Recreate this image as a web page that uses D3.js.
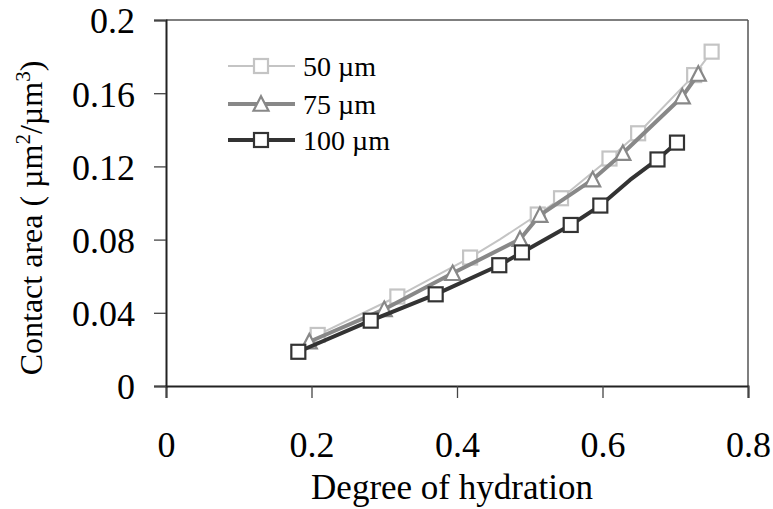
<!DOCTYPE html>
<html><head><meta charset="utf-8">
<script src="https://cdn.jsdelivr.net/npm/d3@7"></script>
<style>body{margin:0;background:#fff}text{font-family:"Liberation Serif","Times New Roman",serif;fill:#000}</style>
</head><body>
<svg id="c" width="773" height="509"></svg>
<script>
const seriesNames = ["50 µm", "75 µm", "100 µm"];
const hyd50  = [0.2085,0.318,0.418,0.459,0.511,0.543,0.6096,0.649,0.726,0.750];
const area50 = [0.0279,0.0489,0.0702,0.0801,0.0937,0.1026,0.1243,0.1381,0.1699,0.1827];
const mark50 = [1,1,1,0,1,1,1,1,1,1];
const hyd75  = [0.197,0.300,0.394,0.4866,0.514,0.5865,0.628,0.7097,0.7317];
const area75 = [0.0242,0.0419,0.0616,0.0802,0.0934,0.1128,0.1272,0.1581,0.1705];
const mark75 = [1,1,1,1,1,1,1,1,1];
const hyd100  = [0.1819,0.2814,0.3707,0.4581,0.4893,0.5563,0.597,0.6378,0.6756,0.7024];
const area100 = [0.0187,0.0357,0.0501,0.0660,0.0730,0.0880,0.0986,0.1126,0.1238,0.1330];
const mark100 = [1,1,1,1,1,1,1,0,1,1];
const xTicks = [0,0.2,0.4,0.6,0.8];
const yTicks = [0,0.04,0.08,0.12,0.16,0.2];

const svg = d3.select("#c");
const L=166,R=748,T=20,B=386;
const x = d3.scaleLinear().domain([0,0.8]).range([L,R]);
const y = d3.scaleLinear().domain([0,0.2]).range([B,T]);

// frame top/right
svg.append("line").attr("x1",L).attr("x2",R).attr("y1",T).attr("y2",T).attr("stroke","#555").attr("stroke-width",1.5);
svg.append("line").attr("x1",R).attr("x2",R).attr("y1",T).attr("y2",B).attr("stroke","#555").attr("stroke-width",1.5);

const xAxis = svg.append("g").attr("transform",`translate(0,${B})`)
  .call(d3.axisBottom(x).tickValues(xTicks).tickSize(12).tickFormat(d3.format("")));
xAxis.selectAll("text").attr("font-size",36).attr("dy",null).attr("y",71).style("font-family","Liberation Serif");
const yAxis = svg.append("g").attr("transform",`translate(${L},0)`)
  .call(d3.axisLeft(y).tickValues(yTicks).tickSize(12).tickFormat(d3.format("")));
yAxis.selectAll("text").attr("font-size",36).attr("x",-31).attr("dy","0.36em").style("font-family","Liberation Serif");
[xAxis,yAxis].forEach(a=>{
  a.select(".domain").attr("stroke","#222").attr("stroke-width",2);
  a.selectAll(".tick line").attr("stroke","#444").attr("stroke-width",1.3);
});

const styles = [
  {hyd:hyd50, area:area50, mark:mark50, color:"#c4c4c4", lw:2, mk:"sq", ms:14},
  {hyd:hyd75, area:area75, mark:mark75, color:"#888888", lw:4, mk:"tri", ms:15},
  {hyd:hyd100, area:area100, mark:mark100, color:"#333333", lw:4, mk:"sq", ms:14}
];
function drawMarker(g, type, cx, cy, size, color){
  if(type==="sq"){
    g.append("rect").attr("x",cx-size/2).attr("y",cy-size/2).attr("width",size).attr("height",size)
      .attr("fill","#fff").attr("stroke",color).attr("stroke-width",2.2);
  } else {
    const h=size*0.9, w=size;
    g.append("path").attr("d",`M${cx},${cy-h/2-1}L${cx+w/2},${cy+h/2}L${cx-w/2},${cy+h/2}Z`)
      .attr("fill","#fff").attr("stroke",color).attr("stroke-width",2.2).attr("stroke-linejoin","miter");
  }
}
const line = d3.line().x(d=>x(d[0])).y(d=>y(d[1]));
styles.forEach(s=>{
  const pts = s.hyd.map((h,i)=>[h,s.area[i],s.mark[i]]);
  const g = svg.append("g");
  g.append("path").attr("d",line(pts)).attr("fill","none").attr("stroke",s.color).attr("stroke-width",s.lw).attr("stroke-linejoin","round");
  pts.filter(p=>p[2]).forEach(p=>drawMarker(g,s.mk,x(p[0]),y(p[1]),s.ms,s.color));
});

// legend
const legY=[66,104,140];
styles.forEach((s,i)=>{
  const g=svg.append("g");
  g.append("line").attr("x1",228).attr("x2",295).attr("y1",legY[i]).attr("y2",legY[i]).attr("stroke",s.color).attr("stroke-width",s.lw);
  drawMarker(g,s.mk,261,legY[i],s.ms,s.color);
  g.append("text").attr("x",303).attr("y",legY[i]+9.5).attr("font-size",28).text(seriesNames[i]);
});

// titles
svg.append("text").attr("x",452).attr("y",499).attr("text-anchor","middle").attr("font-size",35).text("Degree of hydration");
const yt = svg.append("text").attr("transform","translate(42,218) rotate(-90)").attr("text-anchor","middle").attr("font-size",32);
yt.append("tspan").text("Contact area ( µm");
yt.append("tspan").attr("font-size",21).attr("dy",-12).text("2");
yt.append("tspan").attr("dy",12).text("/µm");
yt.append("tspan").attr("font-size",21).attr("dy",-12).text("3");
yt.append("tspan").attr("dy",12).text(")");
</script>
</body></html>
